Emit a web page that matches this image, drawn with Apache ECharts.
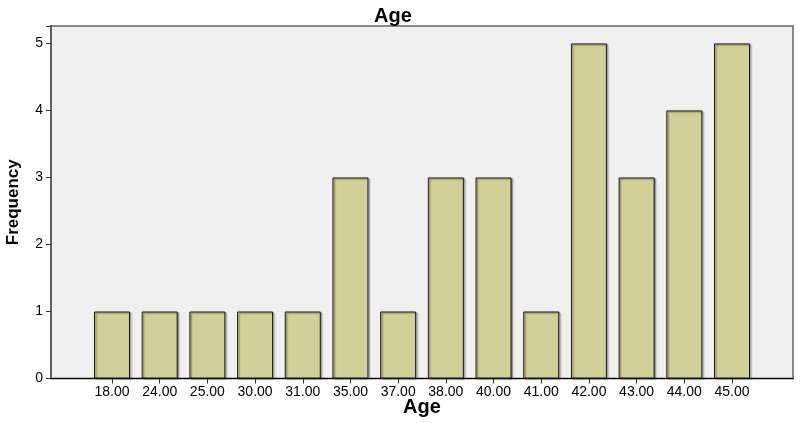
<!DOCTYPE html>
<html>
    <head>
        <meta charset="utf-8">
        <script src="https://cdnjs.cloudflare.com/ajax/libs/echarts/6.0.0/echarts.min.js"></script>
        <style>
            html, body { margin: 0; padding: 0; background: #fff; }
        </style>
    </head>
    <body>
    <div id="chart" style="width: 800px;height:423px;"></div>
    </body>
    <script>
        // Age categories and frequency counts
        let ages = ['18.00', '24.00', '25.00', '30.00', '31.00', '35.00', '37.00',
                    '38.00', '40.00', '41.00', '42.00', '43.00', '44.00', '45.00'];
        let frequency = [1, 1, 1, 1, 1, 3, 1, 3, 3, 1, 5, 3, 4, 5];
        let yTicks = [0, 1, 2, 3, 4, 5];

        let font = '"Liberation Sans", Arial, sans-serif';
        let yMax = 5.26;

        option = {
            animation: false,
            title: {
                text: 'Age',
                left: 388,
                top: 1,
                textAlign: 'center',
                textStyle: {fontFamily: font, fontSize: 20, fontWeight: 'bold', color: '#000'}
            },
            grid: [
                // outer frame with grey background
                {left: 51, right: 7, top: 26, bottom: 44.5, show: true, containLabel: false,
                 outerBoundsMode: 'none',
                 backgroundColor: '#f0f0f0', borderColor: '#888', borderWidth: 2},
                // inner grid holding the bars
                {left: 88.15, right: 44.15, top: 26, bottom: 44.5, containLabel: false,
                 outerBoundsMode: 'none'}
            ],
            xAxis: [
                {
                    gridIndex: 0, type: 'value', min: 0, max: 1,
                    name: 'Age', nameLocation: 'middle', nameGap: 19,
                    nameTextStyle: {fontFamily: font, fontSize: 20, fontWeight: 'bold', color: '#000'},
                    axisLine: {show: true, onZero: false, lineStyle: {color: '#000', width: 1}},
                    axisTick: {show: false}, axisLabel: {show: false}, splitLine: {show: false}
                },
                {
                    gridIndex: 1, type: 'category', data: ages,
                    axisLine: {show: false},
                    axisTick: {show: true, alignWithLabel: true, length: 5, lineStyle: {color: '#333'}},
                    axisLabel: {fontFamily: font, fontSize: 14, color: '#000', margin: 7, interval: 0}
                }
            ],
            yAxis: [
                {
                    gridIndex: 0, type: 'value', min: 0, max: yMax, interval: 1,
                    name: 'Frequency', nameLocation: 'middle', nameGap: 29,
                    nameTextStyle: {fontFamily: font, fontSize: 17, fontWeight: 'bold', color: '#000'},
                    axisLine: {show: true, lineStyle: {color: '#555', width: 1.5}},
                    axisTick: {show: true, length: 5, lineStyle: {color: '#333'}},
                    axisLabel: {
                        fontFamily: font, fontSize: 14, color: '#000', margin: 8,
                        formatter: function (v) { return yTicks.indexOf(v) >= 0 ? String(v) : ''; }
                    },
                    splitLine: {show: false}
                },
                {
                    gridIndex: 1, type: 'value', min: 0, max: yMax, show: false
                }
            ],
            series: [
                {
                    type: 'bar',
                    xAxisIndex: 1,
                    yAxisIndex: 1,
                    barWidth: 36,
                    data: frequency,
                    itemStyle: {
                        color: '#d3cf98',
                        borderColor: '#1a1a1a',
                        borderWidth: 1,
                        shadowColor: 'rgba(0,0,0,0.45)',
                        shadowOffsetX: 1.5,
                        shadowOffsetY: 1,
                        shadowBlur: 1.5
                    }
                }
            ]
        };
        myChart = echarts.init(document.getElementById('chart'));
        myChart.setOption(option);
    </script>
</html>
